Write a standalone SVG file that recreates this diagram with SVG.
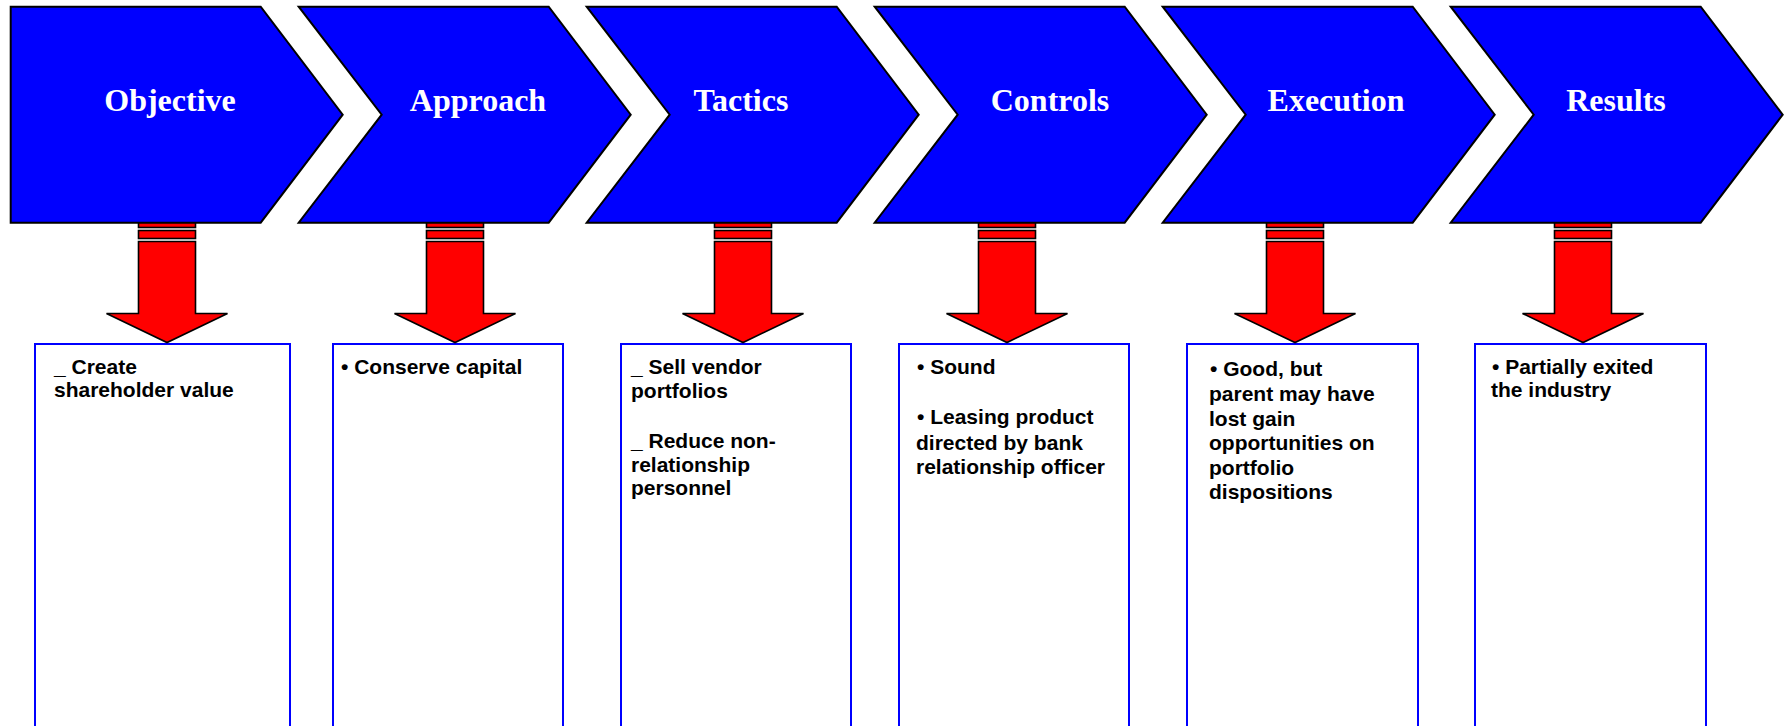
<svg xmlns="http://www.w3.org/2000/svg" xmlns:xlink="http://www.w3.org/1999/xlink" width="1787" height="726" viewBox="0 0 1787 726">
<style>
.chev{fill:#0000FF;stroke:#000;stroke-width:2;stroke-linejoin:miter}
.chevlbl{font-family:"Liberation Serif","Times New Roman",serif;font-weight:bold;font-size:32px;fill:#fff;text-anchor:middle}
.box{fill:#fff;stroke:#0000FF;stroke-width:2}
.txt{font-family:"Liberation Sans",Arial,sans-serif;font-weight:bold;font-size:21px;fill:#000}
.red{fill:#FF0000;stroke:#000;stroke-width:1.6;stroke-linejoin:miter}
</style>
<defs>
<g id="downArrow">
<rect class="red" x="-28.5" y="221.5" width="57" height="6"/>
<rect class="red" x="-28.5" y="230.5" width="57" height="8"/>
<polygon class="red" points="-28.5,241.5 28.5,241.5 28.5,313.5 60.5,313.5 0,342.5 -60.5,313.5 -28.5,313.5"/>
</g>
</defs>
<rect width="1787" height="726" fill="#fff"/>

<g id="box-objective">
<rect class="box" x="35" y="344" width="255" height="400"/>
<text class="txt"><tspan x="54" y="373.5">_ Create</tspan><tspan x="54" y="396.5">shareholder value</tspan></text>
</g>
<g id="box-approach">
<rect class="box" x="333" y="344" width="230" height="400"/>
<text class="txt"><tspan x="341" y="373.5">• Conserve capital</tspan></text>
</g>
<g id="box-tactics">
<rect class="box" x="621" y="344" width="230" height="400"/>
<text class="txt"><tspan x="631" y="373.5">_ Sell vendor</tspan><tspan x="631" y="397.5">portfolios</tspan><tspan x="631" y="448">_ Reduce non-</tspan><tspan x="631" y="471.5">relationship</tspan><tspan x="631" y="495">personnel</tspan></text>
</g>
<g id="box-controls">
<rect class="box" x="899" y="344" width="230" height="400"/>
<text class="txt"><tspan x="917" y="373.5">• Sound</tspan><tspan x="917" y="423.5">• Leasing product</tspan><tspan x="916" y="449.5">directed by bank</tspan><tspan x="916" y="473.5">relationship officer</tspan></text>
</g>
<g id="box-execution">
<rect class="box" x="1187" y="344" width="231" height="400"/>
<text class="txt"><tspan x="1210" y="375.5">• Good, but</tspan><tspan x="1209" y="401">parent may have</tspan><tspan x="1209" y="425.5">lost gain</tspan><tspan x="1209" y="450">opportunities on</tspan><tspan x="1209" y="474.5">portfolio</tspan><tspan x="1209" y="499">dispositions</tspan></text>
</g>
<g id="box-results">
<rect class="box" x="1475" y="344" width="231" height="400"/>
<text class="txt"><tspan x="1492" y="373.5">• Partially exited</tspan><tspan x="1491" y="396.5">the industry</tspan></text>
</g>

<g id="connectors">
<use xlink:href="#downArrow" href="#downArrow" x="167"/>
<use xlink:href="#downArrow" href="#downArrow" x="455"/>
<use xlink:href="#downArrow" href="#downArrow" x="743"/>
<use xlink:href="#downArrow" href="#downArrow" x="1007"/>
<use xlink:href="#downArrow" href="#downArrow" x="1295"/>
<use xlink:href="#downArrow" href="#downArrow" x="1583"/>
</g>

<g id="chev-objective">
<polygon class="chev" points="10.7,6.7 260.7,6.7 342.7,114.7 260.7,222.7 10.7,222.7"/>
<text class="chevlbl" x="170" y="111">Objective</text>
</g>
<g id="chev-approach">
<polygon class="chev" points="298.7,6.7 548.7,6.7 630.7,114.7 548.7,222.7 298.7,222.7 381.7,114.7"/>
<text class="chevlbl" x="478" y="111">Approach</text>
</g>
<g id="chev-tactics">
<polygon class="chev" points="586.7,6.7 836.7,6.7 918.7,114.7 836.7,222.7 586.7,222.7 669.7,114.7"/>
<text class="chevlbl" x="741" y="111">Tactics</text>
</g>
<g id="chev-controls">
<polygon class="chev" points="874.7,6.7 1124.7,6.7 1206.7,114.7 1124.7,222.7 874.7,222.7 957.7,114.7"/>
<text class="chevlbl" x="1050" y="111">Controls</text>
</g>
<g id="chev-execution">
<polygon class="chev" points="1162.7,6.7 1412.7,6.7 1494.7,114.7 1412.7,222.7 1162.7,222.7 1245.7,114.7"/>
<text class="chevlbl" x="1336" y="111">Execution</text>
</g>
<g id="chev-results">
<polygon class="chev" points="1450.7,6.7 1700.7,6.7 1782.7,114.7 1700.7,222.7 1450.7,222.7 1533.7,114.7"/>
<text class="chevlbl" x="1616" y="111">Results</text>
</g>
</svg>
